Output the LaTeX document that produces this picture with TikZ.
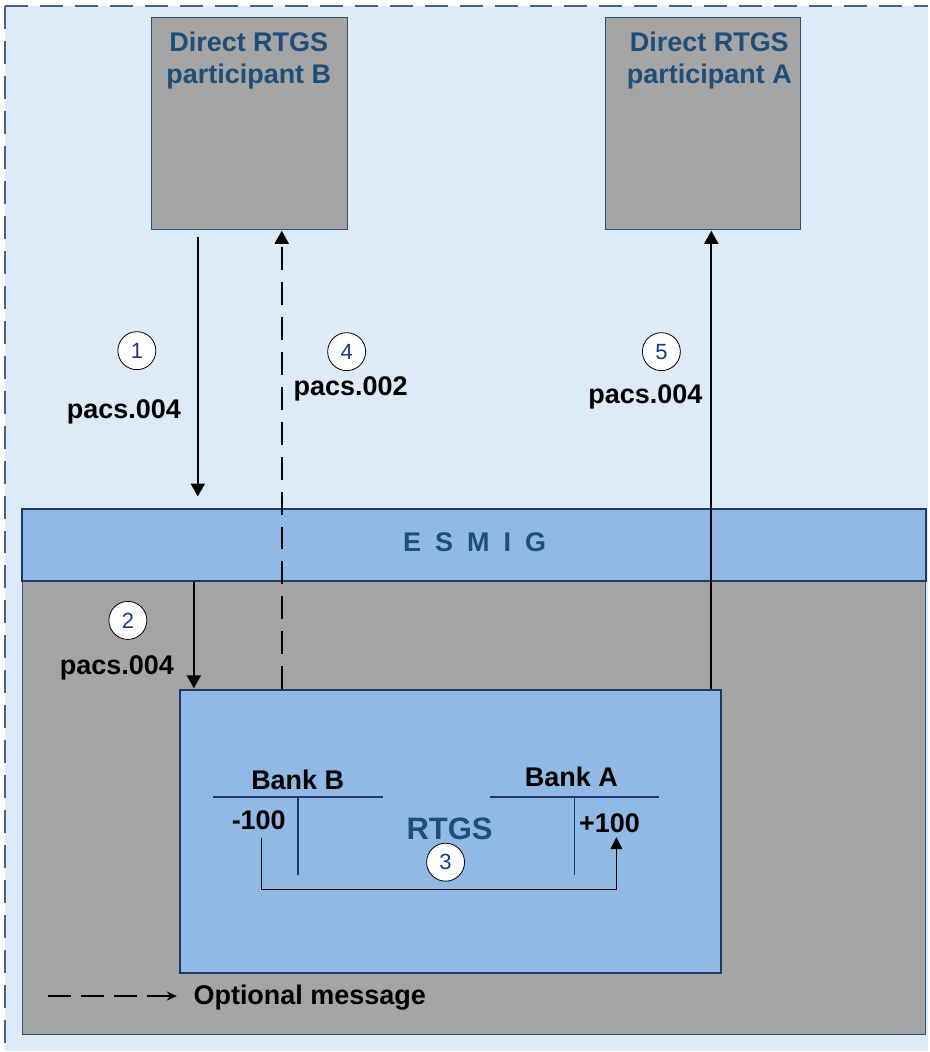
\documentclass[tikz,border=0pt]{standalone}
\usepackage{fontspec}
\setmainfont{Liberation Sans}
\usetikzlibrary{positioning}
\usetikzlibrary{arrows.meta}

\definecolor{bgblue}{HTML}{DDEAF7}
\definecolor{boxgray}{HTML}{A5A5A5}
\definecolor{midblue}{HTML}{90BAE5}
\definecolor{navy}{HTML}{1F3864}
\definecolor{titleblue}{HTML}{1F4E79}
\definecolor{numblue}{HTML}{1F3A8A}
\definecolor{slate}{HTML}{2F5070}

\begin{document}
\begin{tikzpicture}[x=1pt,y=-1pt,>={Triangle[length=13pt,width=14pt]},
	thick,
	part node/.style={rectangle,draw=slate,line width=1pt,fill=boxgray,
		minimum width=196pt,minimum height=212pt,anchor=north west,inner sep=0pt},
	title text/.style={font=\fontsize{27}{32}\selectfont\bfseries,text=titleblue,align=center},
	msg text/.style={font=\fontsize{27}{30}\selectfont\bfseries,text=black},
	step circle/.style={circle,draw=black,line width=0.8pt,fill=white,minimum size=38pt,
		inner sep=0pt,font=\fontsize{22}{24}\selectfont,text=numblue},
	msg line/.style={->,line width=2pt,shorten >=1pt},
	tacc/.style={draw=navy,line width=1.8pt}]

	% background
	\fill[bgblue] (5,6) rectangle (929,1052);
	\draw[navy!80,line width=2pt,dash pattern=on 23pt off 12pt] (5,6) -- (929,6);
	\draw[navy!80,line width=2pt,dash pattern=on 23pt off 12pt] (5,6) -- (5,1052);
	\useasboundingbox (0,0) rectangle (929,1052);

	% participants
	\node[part node] (partB) at (151,17) {};
	\node[part node,minimum width=195pt] (partA) at (606,17) {};
	\node[title text] (partBtxt) at (249,61) {Direct RTGS\\participant B};
	\node[title text] (partAtxt) at (710,61) {Direct RTGS\\participant A};

	% RTGS area and ESMIG
	\node[rectangle,draw=slate,line width=1pt,fill=boxgray,minimum width=904pt,
		minimum height=454pt,anchor=north west,inner sep=0pt] (area) at (22,581) {};
	\node[rectangle,draw=navy,line width=2pt,fill=midblue,minimum width=905pt,
		minimum height=73pt,anchor=north west,inner sep=0pt] (esmig) at (21,508) {};
	\node[title text] (esmigtxt) at (475,543) {E\kern14pt S\kern14pt M\kern14pt I\kern14pt G};
	\node[rectangle,draw=navy,line width=2pt,fill=midblue,minimum width=542pt,
		minimum height=283pt,anchor=north west,inner sep=0pt] (rtgs) at (179,690) {};
	\node[title text,font=\fontsize{31}{34}\selectfont\bfseries] (rtgstxt) at (450,830) {RTGS};

	% T-accounts
	\node[msg text] (bankB) at (298,781) {Bank B};
	\node[msg text] (bankA) at (572,778) {Bank A};
	\coordinate (tB1) at (213,798);
	\coordinate (tB2) at (383,798);
	\coordinate (tA1) at (490,798);
	\coordinate (tA2) at (660,798);
	\draw[tacc] (tB1) -- (tB2);
	\draw[tacc] (tA1) -- (tA2);
	\draw[tacc] (298,798) -- (298,876);
	\draw[tacc] (575,798) -- (575,876);
	\node[msg text] (minus) at (259,821) {-100};
	\node[msg text] (plus) at (610,824) {+100};
	\coordinate (bookB) at (262,839);
	\coordinate (bookA) at (617,838);
	\draw[->,line width=1.2pt,>={Triangle[length=12pt,width=12pt]}] (bookB) -- (262,890) -| (bookA);
	\node[step circle] (s3) at (446,863) {3};

	% messages
	\coordinate (m1a) at (198,237);
	\coordinate (m1b) at (198,498);
	\draw[msg line] (m1a) -- (m1b);
	\draw[msg line] (esmig.south -| 194,0) -- (rtgs.north -| 194,0);
	\draw[msg line,dash pattern=on 23pt off 12pt] (rtgs.north -| 282,0) -- (partB.south -| 282,0);
	\draw[msg line] (rtgs.north -| 712,0) -- (partA.south -| 712,0);

	\node[step circle] (s1) at (137,351) {1};
	\node[step circle] (s4) at (347,352) {4};
	\node[step circle] (s5) at (662,352) {5};
	\node[step circle] (s2) at (128,621) {2};
	\node[msg text] (p1) at (124,412) {pacs.004};
	\node[msg text] (p4) at (351,389) {pacs.002};
	\node[msg text] (p5) at (646,397) {pacs.004};
	\node[msg text] (p2) at (117,669) {pacs.004};

	% legend
	\coordinate (lg1) at (48,997);
	\coordinate (lg2) at (177,997);
	\draw[->,line width=1.5pt,dash pattern=on 23pt off 10pt,>={Stealth[length=10pt,width=9pt]}] (lg1) -- (lg2);
	\node[msg text,anchor=west] (legend) at (190,999) {Optional message};
\end{tikzpicture}
\end{document}
